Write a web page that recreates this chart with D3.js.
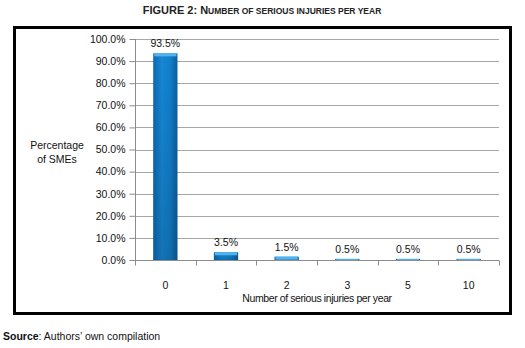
<!DOCTYPE html>
<html>
<head>
<meta charset="utf-8">
<script src="https://cdn.jsdelivr.net/npm/d3@7"></script>
<style>
  body { margin: 0; background: #fff; }
  text { font-family: "Liberation Sans", Arial, sans-serif; }
</style>
</head>
<body>
<svg width="525" height="348"></svg>
<script>
// chart values
var categories = ["0", "1", "2", "3", "5", "10"];
var percentages = [93.5, 3.5, 1.5, 0.5, 0.5, 0.5];
var yTicks = [0, 10, 20, 30, 40, 50, 60, 70, 80, 90, 100];

var svg = d3.select('svg');

// plot area
var plot = {l: 135, r: 499, t: 39, b: 260};

var xScale = d3.scaleBand()
    .domain(categories)
    .range([plot.l, plot.r])
    .paddingInner(0.6)
    .paddingOuter(0.3);

var yScale = d3.scaleLinear()
    .domain([0, 100])
    .range([plot.b, plot.t]);

// gradients for the bars
var defs = svg.append('defs');
var grad = defs.append('linearGradient')
    .attr('id', 'barGrad')
    .attr('x1', 0).attr('x2', 1).attr('y1', 0).attr('y2', 0);
grad.append('stop').attr('offset', '0%').attr('stop-color', '#0e68b0');
grad.append('stop').attr('offset', '35%').attr('stop-color', '#1687d6');
grad.append('stop').attr('offset', '70%').attr('stop-color', '#117fca');
grad.append('stop').attr('offset', '100%').attr('stop-color', '#0b5e9f');

var vgrad = defs.append('linearGradient')
    .attr('id', 'barShade')
    .attr('x1', 0).attr('x2', 0).attr('y1', 0).attr('y2', 1);
vgrad.append('stop').attr('offset', '0%').attr('stop-color', '#000').attr('stop-opacity', 0);
vgrad.append('stop').attr('offset', '100%').attr('stop-color', '#000').attr('stop-opacity', 0.15);

// title
var title = svg.append('text')
    .attr('x', 262)
    .attr('y', 14)
    .attr('text-anchor', 'middle')
    .style('font-family', '"Liberation Sans Narrow", "Liberation Sans", Arial, sans-serif')
    .style('font-weight', 'bold')
    .style('fill', '#222');
title.append('tspan').style('font-size', '11px').text('FIGURE 2: N');
title.append('tspan').style('font-size', '8.5px').text('UMBER OF SERIOUS INJURIES PER YEAR');

// frame
svg.append('rect')
    .attr('x', 14.5)
    .attr('y', 27.5)
    .attr('width', 496)
    .attr('height', 286)
    .attr('fill', 'none')
    .attr('stroke', '#000')
    .attr('stroke-width', 3);

// gridlines
svg.append('g')
    .selectAll('line')
    .data(yTicks.slice(1))
    .enter()
    .append('line')
    .attr('x1', plot.l)
    .attr('x2', plot.r)
    .attr('y1', d => Math.round(yScale(d)) + 0.5)
    .attr('y2', d => Math.round(yScale(d)) + 0.5)
    .attr('stroke', '#a6a6a6')
    .attr('stroke-width', 1);

// y axis
var yAxis = svg.append('g')
    .attr('transform', 'translate(' + (plot.l + 0.5) + ',0)')
    .call(d3.axisLeft(yScale)
        .tickValues(yTicks)
        .tickFormat(d => d.toFixed(1) + '%')
        .tickSize(6)
        .tickPadding(4));
yAxis.select('.domain').attr('stroke', '#8c8c8c').attr('d', 'M0,' + plot.t + 'V' + plot.b);
yAxis.selectAll('.tick line').attr('stroke', '#8c8c8c');
yAxis.selectAll('.tick text')
    .style('font-size', '10.5px')
    .style('fill', '#111');

// x axis
var xAxis = svg.append('g')
    .attr('transform', 'translate(0,' + (plot.b + 0.5) + ')');
xAxis.append('line')
    .attr('x1', plot.l).attr('x2', plot.r)
    .attr('stroke', '#8c8c8c');
var step = (plot.r - plot.l) / categories.length;
xAxis.selectAll('.xtick')
    .data(d3.range(categories.length + 1))
    .enter()
    .append('line')
    .attr('x1', i => Math.round(plot.l + i * step) + 0.5)
    .attr('x2', i => Math.round(plot.l + i * step) + 0.5)
    .attr('y1', 0).attr('y2', 5)
    .attr('stroke', '#8c8c8c');
xAxis.selectAll('.xlabel')
    .data(categories)
    .enter()
    .append('text')
    .attr('x', d => xScale(d) + xScale.bandwidth() / 2)
    .attr('y', 28)
    .attr('text-anchor', 'middle')
    .style('font-size', '10.5px')
    .style('fill', '#111')
    .text(d => d);

// bars
var bars = svg.append('g')
    .selectAll('g')
    .data(percentages)
    .enter()
    .append('g');

bars.append('rect')
    .attr('x', (d, i) => xScale(categories[i]))
    .attr('y', d => yScale(d))
    .attr('width', xScale.bandwidth())
    .attr('height', d => plot.b - yScale(d))
    .attr('fill', 'url(#barGrad)');

bars.append('rect')
    .attr('x', (d, i) => xScale(categories[i]))
    .attr('y', d => yScale(d))
    .attr('width', xScale.bandwidth())
    .attr('height', d => plot.b - yScale(d))
    .attr('fill', 'url(#barShade)');

// light cap on top of each bar
bars.append('rect')
    .attr('x', (d, i) => xScale(categories[i]) + 1)
    .attr('y', d => yScale(d))
    .attr('width', xScale.bandwidth() - 2)
    .attr('height', d => Math.min(3, plot.b - yScale(d)))
    .attr('fill', '#52b2ee');

// value labels
bars.append('text')
    .attr('x', (d, i) => xScale(categories[i]) + xScale.bandwidth() / 2)
    .attr('y', d => yScale(d) - 6)
    .attr('text-anchor', 'middle')
    .style('font-size', '10.5px')
    .style('fill', '#111')
    .text(d => d.toFixed(1) + '%');

// axis titles
svg.append('text')
    .attr('x', (plot.l + plot.r) / 2)
    .attr('y', 302)
    .attr('text-anchor', 'middle')
    .style('font-size', '10.5px')
    .style('letter-spacing', '-0.4px')
    .style('fill', '#111')
    .text('Number of serious injuries per year');

var yTitle = svg.append('text')
    .attr('text-anchor', 'middle')
    .style('font-size', '10.5px')
    .style('fill', '#111');
yTitle.append('tspan').attr('x', 57).attr('y', 149).text('Percentage');
yTitle.append('tspan').attr('x', 57).attr('y', 163).text('of SMEs');

// source note
var src = svg.append('text')
    .attr('x', 3)
    .attr('y', 340)
    .style('font-size', '10.5px')
    .style('fill', '#111');
src.append('tspan').style('font-weight', 'bold').text('Source');
src.append('tspan').text(': Authors\u2019 own compilation');
</script>
</body>
</html>
